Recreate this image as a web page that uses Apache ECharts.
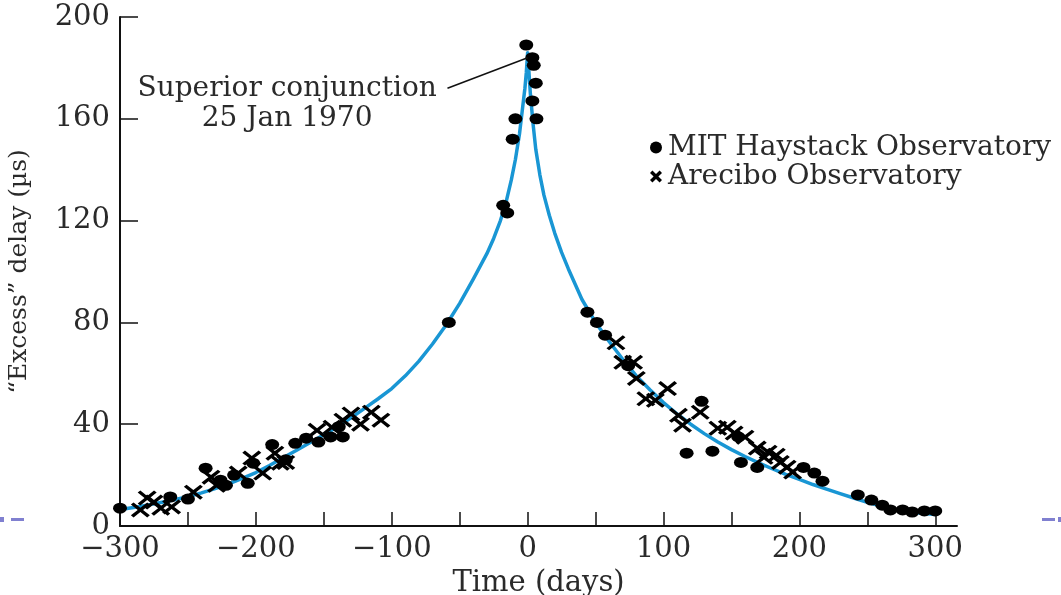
<!DOCTYPE html>
<html>
<head>
<meta charset="utf-8">
<script src="https://cdn.jsdelivr.net/npm/echarts@6/dist/echarts.min.js"></script>
<style>
html,body{margin:0;padding:0;background:#fff;}
#chart{width:1061px;height:595px;}
</style>
</head>
<body>
<div id="chart"></div>
<script>
// ---- Data ----
// Fitted curve (blue line)
const curveT = [-300,-290,-280,-270,-260,-250,-240,-230,-220,-210,-200,-190,-180,-170,-160,-150,-140,-130,-120,-110,-100,-90,-80,-70,-60,-50,-40,-30,-25,-20,-16,-12,-9,-6,-4,-2,-1,0,
  1,2,4,6,9,12,16,20,25,30,40,50,60,70,80,90,100,110,120,130,140,150,160,170,180,190,200,210,220,230,240,250,260,270,280,290,300];
const curveV = [6.5,7.3,8.2,9.2,10.3,11.5,13.0,14.7,16.6,18.7,21.0,23.8,26.8,29.8,32.8,35.8,39.0,42.5,46.2,50.0,54.0,59.0,64.8,71.5,79.0,87.5,97,107,113,120,127,136,144,154,163,172,178,186,
  178,170,158,148,138,130,122,115,107.5,101,89,80,72.5,65.5,59,53.5,48.5,44,40,36.3,33,30,27.3,24.8,22.5,20.3,18.3,16.3,14.5,12.7,11,9.3,7.8,6.5,5.6,5,4.5];

// MIT Haystack Observatory (dots)
const mitT = [-300,-263,-250,-237,-226,-222,-216,-206,-202,-188,-178,-171,-163,-154,-145,-139,-136,
  -58,-18,-15,-11,-9,-1,3.5,4.5,6,3.5,6.5,
  44,51,57,74,128,117,136,155,157,169,203,211,217,243,253,261,267,276,283,292,300];
const mitV = [7,11.4,10.6,22.7,18,16,20,16.8,24.7,32,26,32.5,34.5,33,35,39,35,
  80,126,123,152,160,189,184,181,174,167,160,
  84,80,75,63,49,28.6,29.4,35,25,23,23,20.8,17.6,12.2,10.2,8.2,6.3,6.3,5.5,5.9,5.9];

// Arecibo Observatory (crosses)
const areT = [-285,-280,-275,-270,-262,-246,-233,-229,-213,-203,-195,-186,-182,-178,-155,-144,-136,-130,-123,-115,-108,
  65,70,78,80,87,94,103,111,114,127,140,147,152,160,169,174,177,183,186,191,195];
const areV = [6.3,11,9.4,7,7.5,13.3,19.2,16,20.8,26.7,20.8,28.6,24.7,25,37.6,38.8,41.6,44,40,44.7,41.6,
  72,64.3,64.3,58,50,49.4,54,43.5,39.6,44.7,38.4,38.8,36.5,34.9,30.6,27,29,27.8,25,23.1,21.2];

// Axis ticks / labels
const xTickValues = [-250,-200,-150,-100,-50,0,50,100,150,200,250,300];
const xLabelValues = [-300,-200,-100,0,100,200,300];

// Annotation
const annotationText = 'Superior conjunction\n25 Jan 1970';
const annotationTextPos = [-177, 166];
const annotationFrom = [-59, 172];
const annotationTo = [0, 184];

const seriesNames = ['MIT Haystack Observatory', 'Arecibo Observatory'];

// ---- Build ----
const FONT = 'DejaVu Serif';
const TXT = '#2a2a2a';
const zip = (a, b) => a.map((v, i) => [v, b[i]]);
const crossPath = 'path://M0,1.4L1.4,0L5,3.6L8.6,0L10,1.4L6.4,5L10,8.6L8.6,10L5,6.4L1.4,10L0,8.6L3.6,5Z';
const legendCross = 'path://M0,2L2,0L5,3L8,0L10,2L7,5L10,8L8,10L5,7L2,10L0,8L3,5Z';

const chart = echarts.init(document.getElementById('chart'));
chart.setOption({
  backgroundColor: '#fff',
  animation: false,
  grid: { left: 120, right: 104, top: 17, bottom: 69, containLabel: false, outerBoundsMode: 'none' },
  xAxis: {
    type: 'value', min: -300, max: 316, interval: 50,
    name: 'Time (days)', nameLocation: 'middle', nameGap: 42,
    nameTextStyle: { fontFamily: FONT, fontSize: 29, color: TXT },
    axisLine: { show: true, onZero: false, lineStyle: { color: '#111', width: 2 } },
    axisTick: { show: true, inside: true, length: 14, customValues: xTickValues, lineStyle: { color: '#111', width: 1.5 } },
    axisLabel: { customValues: xLabelValues, margin: 9, fontFamily: FONT, fontSize: 29, color: TXT,
      formatter: v => String(v).replace('-', '\u2212') },
    splitLine: { show: false }
  },
  yAxis: {
    type: 'value', min: 0, max: 200, interval: 40,
    name: '\u201cExcess\u201d delay (\u00b5s)', nameLocation: 'middle', nameGap: 88,
    nameTextStyle: { fontFamily: FONT, fontSize: 25, color: TXT },
    axisLine: { show: true, onZero: false, lineStyle: { color: '#111', width: 2 } },
    axisTick: { show: true, inside: true, length: 18, lineStyle: { color: '#111', width: 1.5 } },
    axisLabel: { margin: 10, fontFamily: FONT, fontSize: 29, color: TXT },
    splitLine: { show: false }
  },
  legend: {
    orient: 'vertical', left: 645, top: 128, itemGap: 0,
    itemWidth: 14, itemHeight: 12,
    textStyle: { fontFamily: FONT, fontSize: 28, color: TXT, lineHeight: 29 },
    data: [
      { name: seriesNames[0], icon: 'circle' },
      { name: seriesNames[1], icon: legendCross }
    ]
  },
  series: [
    {
      type: 'line', name: 'curve', data: zip(curveT, curveV),
      showSymbol: false, smooth: false,
      lineStyle: { color: '#1996d4', width: 3.5, join: 'round' },
      z: 2,
      markLine: {
        silent: true, symbol: ['none', 'none'],
        lineStyle: { color: '#111', width: 1.5, type: 'solid' },
        label: { show: false },
        data: [[{ coord: annotationFrom }, { coord: annotationTo }]]
      },
      markPoint: {
        silent: true, symbol: 'circle', symbolSize: 1,
        itemStyle: { color: 'rgba(0,0,0,0)' },
        label: { show: true, position: 'inside', formatter: annotationText,
          fontFamily: FONT, fontSize: 28, lineHeight: 30, color: TXT, align: 'center' },
        data: [{ coord: annotationTextPos }]
      }
    },
    {
      type: 'scatter', name: seriesNames[0], data: zip(mitT, mitV),
      symbol: 'circle', symbolSize: [14, 11],
      itemStyle: { color: '#000', opacity: 1 }, z: 3
    },
    {
      type: 'scatter', name: seriesNames[1], data: zip(areT, areV),
      symbol: crossPath, symbolSize: [19, 15],
      itemStyle: { color: '#000', opacity: 1 }, z: 4
    }
  ],
  graphic: [
    { type: 'rect', shape: { x: 0, y: 517, width: 4, height: 5 }, style: { fill: '#8080d0' } },
    { type: 'rect', shape: { x: 11, y: 518, width: 13, height: 3 }, style: { fill: '#8080d0' } },
    { type: 'rect', shape: { x: 1042, y: 518, width: 13, height: 3 }, style: { fill: '#8080d0' } },
    { type: 'rect', shape: { x: 1058, y: 517, width: 3, height: 5 }, style: { fill: '#8080d0' } }
  ]
});
</script>
</body>
</html>
